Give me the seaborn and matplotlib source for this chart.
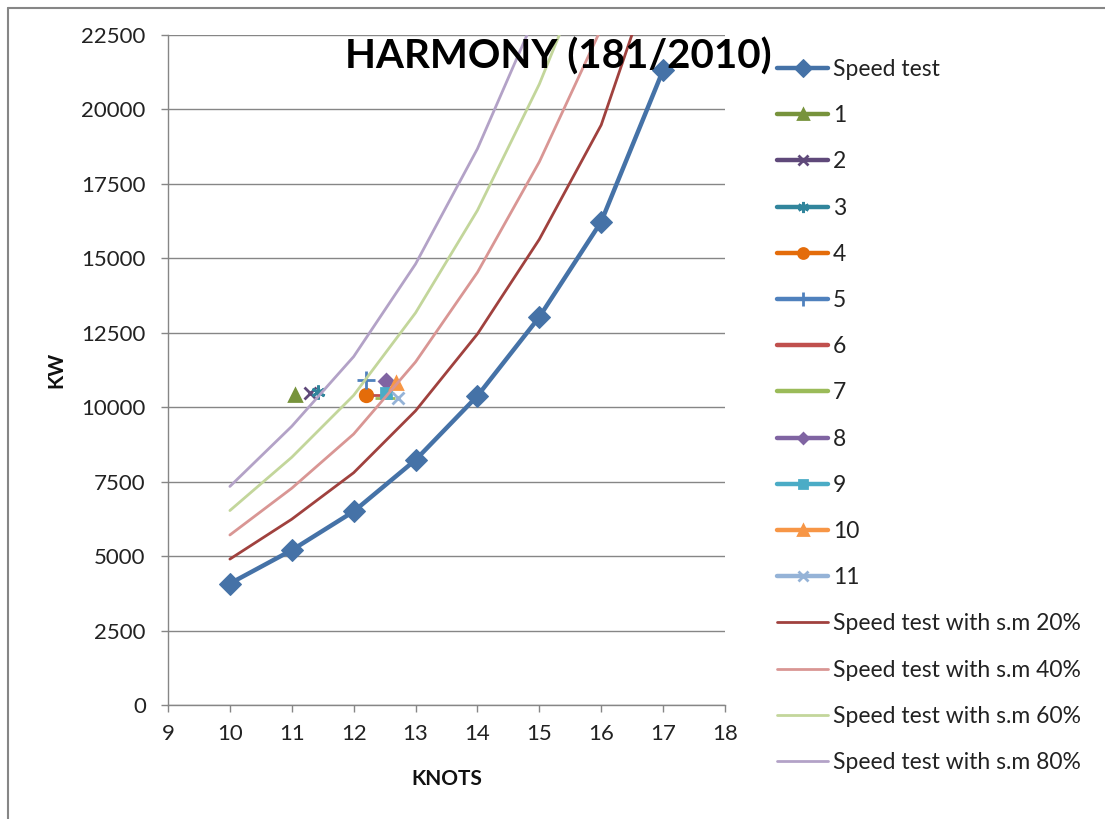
import numpy as np
import pandas as pd
import seaborn as sns
import matplotlib.pyplot as plt
from matplotlib.lines import Line2D

# speed test curve (knots vs KW)
knots = [10, 11, 12, 13, 14, 15, 16, 17]
speed_test = [4080, 5200, 6500, 8230, 10380, 13030, 16230, 21320]
# same curve with sea margin
sm20 = [4900, 6240, 7800, 9880, 12460, 15640, 19480, 25580]
sm40 = [5710, 7280, 9100, 11520, 14530, 18240, 22720, 29850]
sm60 = [6530, 8320, 10400, 13170, 16610, 20850, 25970, 34110]
sm80 = [7340, 9360, 11700, 14810, 18680, 23450, 29210, 38380]

# single noon reports
point_labels = ['1', '2', '3', '4', '5', '6', '7', '8', '9', '10', '11']
point_knots = [11.05, 11.3, 11.42, 12.2, 12.2, 12.42, 12.5, 12.52, 12.53, 12.69, 12.72]
point_kw = [10420, 10480, 10500, 10410, 10900, 10410, 10310, 10890, 10490, 10810, 10310]

point_colors = ['#77933C', '#5F497A', '#31859C', '#E46C0A', '#4F81BD', '#C0504D',
                '#9BBB59', '#8064A2', '#4BACC6', '#F79646', '#95B3D7']
point_markers = ['^', 'x', (6, 2, 0), 'o', '+', '_', '_', 'D', 's', '^', 'x']
point_sizes = [9, 9, 10, 9, 13, 10, 14, 7, 7, 9, 9]

sm_labels = ['Speed test with s.m 20%', 'Speed test with s.m 40%',
             'Speed test with s.m 60%', 'Speed test with s.m 80%']
sm_colors = ['#A0413E', '#D99694', '#C3D69B', '#B3A2C7']

sns.set_theme(style='white')
plt.rcParams['font.family'] = ['Lato', 'DejaVu Sans']

fig = plt.figure(figsize=(11.05, 8.19), dpi=100)
ax = fig.add_axes([168 / 1105, 1 - 705 / 819, 557 / 1105, 670 / 819])

grey = '#868686'

sns.lineplot(x=knots, y=speed_test, ax=ax, color='#4572A7', linewidth=3.2,
             marker='D', markersize=11, markeredgecolor='#4572A7',
             label='Speed test', zorder=3)

for lab, xk, yk, c, m, s in zip(point_labels, point_knots, point_kw,
                                point_colors, point_markers, point_sizes):
    sns.lineplot(x=[xk], y=[yk], ax=ax, color=c, linewidth=3.2, marker=m,
                 markersize=s, markeredgecolor=c, markeredgewidth=2,
                 label=lab, zorder=4)

for vals, lab, c in zip([sm20, sm40, sm60, sm80], sm_labels, sm_colors):
    sns.lineplot(x=knots, y=vals, ax=ax, color=c, linewidth=2, label=lab, zorder=5)

ax.set_xlim(9, 18)
ax.set_ylim(0, 22500)
ax.set_xticks(range(9, 19))
ax.set_yticks(range(0, 22501, 2500))
ax.yaxis.grid(True, color=grey, linewidth=1)
ax.set_axisbelow(True)

for side in ['top', 'right']:
    ax.spines[side].set_visible(False)
for side in ['left', 'bottom']:
    ax.spines[side].set_color(grey)
    ax.spines[side].set_linewidth(1)

ax.tick_params(axis='both', direction='out', length=5, width=1, color=grey,
               labelsize=16, labelcolor='#222222', pad=9)
ax.tick_params(axis='y', pad=11, left=True)
ax.tick_params(axis='x', bottom=True)

ax.set_ylabel('KW', fontsize=15, fontweight='bold', color='#111111')
ax.set_xlabel('KNOTS', fontsize=15, fontweight='bold', color='#111111')
ax.yaxis.set_label_coords(-0.183, 0.5)
ax.xaxis.set_label_coords(0.501, -0.095)

fig.text(558 / 1105, 1 - 57 / 819, 'HARMONY (181/2010)', fontsize=29,
         fontweight='bold', ha='center', va='center', color='#000000', zorder=1)

ax.get_legend().remove()
handles, labels = ax.get_legend_handles_labels()
fig.legend(handles, labels, loc='upper left', bbox_to_anchor=(777 / 1105, 1 - 59 / 819),
           frameon=False, fontsize=16.5, handlelength=2.23, handletextpad=0.22,
           labelspacing=1.1, borderpad=0, borderaxespad=0, labelcolor='#222222',
           markerscale=0.8)

# outer chart frame (left and top edges visible)
fig.add_artist(Line2D([8 / 1105, 8 / 1105], [0, 1 - 8 / 819], transform=fig.transFigure,
                      color=grey, linewidth=1.5))
fig.add_artist(Line2D([8 / 1105, 1], [1 - 8 / 819, 1 - 8 / 819], transform=fig.transFigure,
                      color=grey, linewidth=1.5))

fig.savefig('out.png', dpi=100)
